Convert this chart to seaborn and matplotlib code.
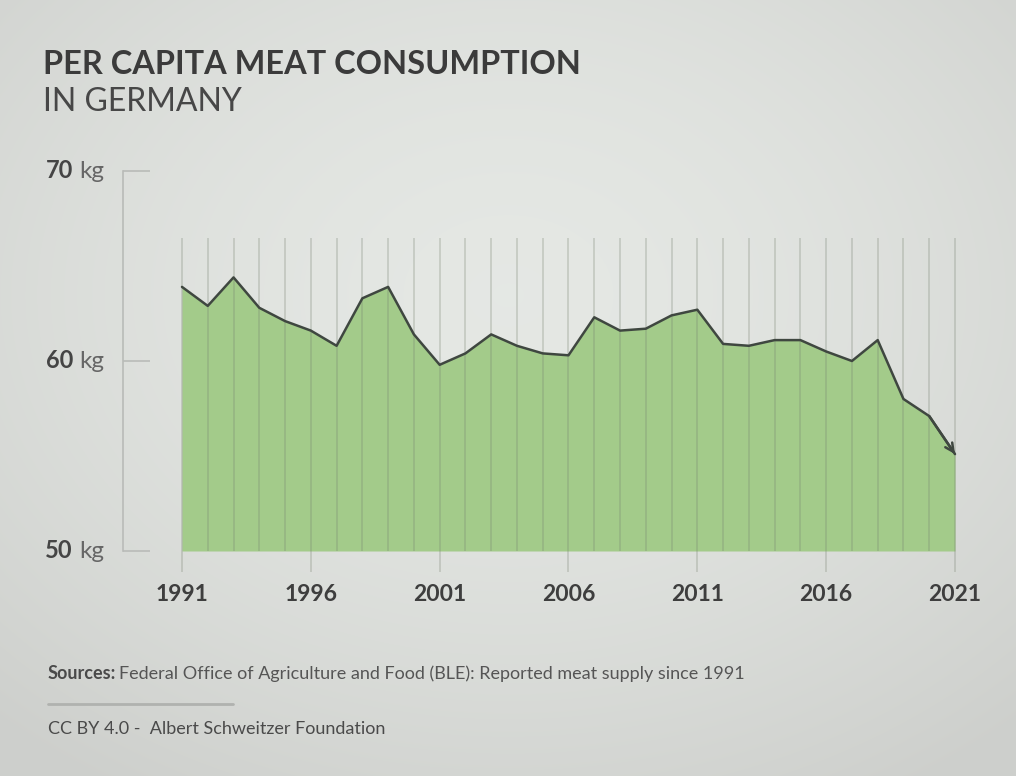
import numpy as np
import pandas as pd
import matplotlib
matplotlib.use("Agg")
import matplotlib.pyplot as plt
import seaborn as sns
from matplotlib.transforms import blended_transform_factory

# ---- data ----
years = list(range(1991, 2022))
consumption_kg = [63.9, 62.9, 64.4, 62.8, 62.1, 61.6, 60.8, 63.3, 63.9, 61.4,
                  59.8, 60.4, 61.4, 60.8, 60.4, 60.3, 62.3, 61.6, 61.7, 62.4,
                  62.7, 60.9, 60.8, 61.1, 61.1, 60.5, 60.0, 61.1, 58.0, 57.1,
                  55.1]
ytick_values = [50, 60, 70]
ytick_numbers = ["50", "60", "70"]
xtick_years = [1991, 1996, 2001, 2006, 2011, 2016, 2021]
title = "PER CAPITA MEAT CONSUMPTION"
subtitle = "IN GERMANY"
source_bold = "Sources:"
source_text = "Federal Office of Agriculture and Food (BLE): Reported meat supply since 1991"
credit = "CC BY 4.0 -  Albert Schweitzer Foundation"

df = pd.DataFrame({"year": years, "kg": consumption_kg})

sns.set_theme(style="white")
plt.rcParams["font.family"] = ["Lato", "DejaVu Sans"]

W, H = 1016, 776
fig = plt.figure(figsize=(W / 100, H / 100), dpi=100)

# background radial gradient
bg = fig.add_axes([0, 0, 1, 1], zorder=-10)
yy, xx = np.mgrid[0:H, 0:W]
r = np.sqrt(((xx - W * 0.5) / (W * 0.75)) ** 2 + ((yy - H * 0.38) / (H * 0.75)) ** 2)
r = np.clip(r, 0, 1)
c0 = np.array([0.898, 0.910, 0.895])
c1 = np.array([0.805, 0.812, 0.800])
img = c0[None, None, :] * (1 - r[..., None] ** 1.6) + c1[None, None, :] * (r[..., None] ** 1.6)
bg.imshow(img, aspect="auto", extent=[0, 1, 0, 1])
bg.axis("off")

# main axes (pixel geometry)
left_px, right_px, top_px, bot_px = 123, 1000, 171, 551
ax = fig.add_axes([left_px / W, 1 - bot_px / H, (right_px - left_px) / W, (bot_px - top_px) / H])
ax.patch.set_alpha(0)
px_per_year = (955 - 182) / 30.0
x0 = 1991 - (182 - left_px) / px_per_year
x1 = 2021 + (right_px - 955) / px_per_year
ax.set_xlim(x0, x1)
ax.set_ylim(50, 70)

fill_col = "#a3cb8a"
line_col = "#3f4740"
ax.fill_between(df["year"], 50, df["kg"], color=fill_col, lw=0, zorder=1)

# vertical year lines
grid_top = 66.5
for yr in years:
    ymin = 48.9 if yr in xtick_years else 50
    ax.plot([yr, yr], [ymin, grid_top], color="#76806f", alpha=0.3, lw=1.2,
            zorder=2, clip_on=False, solid_capstyle="butt")

sns.lineplot(data=df, x="year", y="kg", ax=ax, color=line_col, lw=1.8, zorder=3)
ax.annotate("", xy=(df["year"].iloc[-1], df["kg"].iloc[-1]),
            xytext=(df["year"].iloc[-2], df["kg"].iloc[-2]),
            arrowprops=dict(arrowstyle="->,head_length=0.5,head_width=0.25",
                            color=line_col, lw=1.8, shrinkA=0, shrinkB=0),
            zorder=4)

# spines/ticks
for s in ["top", "right", "bottom"]:
    ax.spines[s].set_visible(False)
ax.spines["left"].set_color("#b9bbb8")
ax.spines["left"].set_linewidth(1.2)
ax.set_yticks(ytick_values)
ax.tick_params(axis="y", left=True, direction="in", length=19.5, width=1.2,
               color="#b9bbb8", labelleft=False)
ax.set_xticks(xtick_years)
ax.set_xticklabels([str(y) for y in xtick_years], fontsize=16.5, fontweight="bold",
                   color="#3e3e3e")
ax.tick_params(axis="x", bottom=False, length=0, pad=24)
ax.set_xlabel("")
ax.set_ylabel("")

# y labels: bold number + light unit
tr = blended_transform_factory(fig.transFigure, ax.transData)
for v, lab in zip(ytick_values, ytick_numbers):
    ax.text(73 / W, v, lab, transform=tr, ha="right", va="center",
            fontsize=17, fontweight="bold", color="#454545")
    ax.text(79 / W, v, "kg", transform=tr, ha="left", va="center",
            fontsize=17.5, color="#666666")

# titles
fig.text(43 / W, 1 - 74 / H, title, fontsize=23.4, fontweight="bold",
         color="#3b3b3b", ha="left", va="baseline")
fig.text(43 / W, 1 - 111 / H, subtitle, fontsize=23, color="#474747",
         ha="left", va="baseline")

# footer
t = fig.text(48 / W, 1 - 679 / H, source_bold, fontsize=13, fontweight="bold",
             color="#4a4a4a", ha="left", va="baseline")
fig.canvas.draw()
bb = t.get_window_extent()
fig.text((bb.x1 + 3) / W, 1 - 679 / H, source_text, fontsize=13,
         color="#555555", ha="left", va="baseline")
fig.add_artist(plt.Line2D([48 / W, 233 / W], [1 - 704 / H, 1 - 704 / H],
                          color="#b0b2af", lw=2))
fig.text(48 / W, 1 - 734 / H, credit, fontsize=13, color="#4a4a4a",
         ha="left", va="baseline")

fig.savefig("out.png", dpi=100)
